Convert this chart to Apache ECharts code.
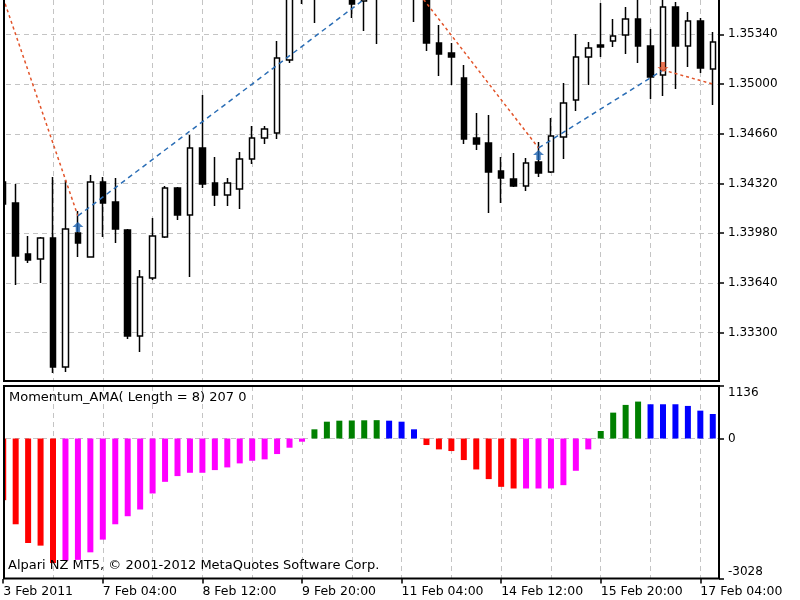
<!DOCTYPE html>
<html>
<head>
<meta charset="utf-8">
<title>Momentum_AMA</title>
<script src="https://cdn.jsdelivr.net/npm/echarts@6/dist/echarts.min.js"></script>
<style>
html,body{margin:0;padding:0;background:#fff;}
#main{width:800px;height:600px;}
</style>
</head>
<body>
<div id="main"></div>
<script>
// H4 bars, 3 Feb 20:00 .. 17 Feb 08:00
var timeLabels = ['3 Feb 2011', '7 Feb 04:00', '8 Feb 12:00', '9 Feb 20:00',
	'11 Feb 04:00', '14 Feb 12:00', '15 Feb 20:00', '17 Feb 04:00'];
var labelStep = 8;

var candleOpen = [1.34330,1.34187,1.33838,1.33804,1.33947,1.33065,1.33982,1.33817,1.34330,1.34193,
	1.34002,1.33277,1.33674,1.33954,1.34289,1.34105,1.34563,1.34323,1.34241,1.34282,
	1.34487,1.34631,1.34665,1.35164,1.35690,1.35620,1.35600,1.35700,1.35660,1.35568,
	1.35620,1.35600,1.35700,1.35680,1.35650,1.35281,1.35212,1.35041,1.34631,1.34597,
	1.34405,1.34351,1.34303,1.34467,1.34399,1.34638,1.34891,1.35185,1.35267,1.35294,
	1.35335,1.35445,1.35260,1.35062,1.35527,1.35260,1.35431,1.35103];
var candleClose = [1.34180,1.33824,1.33797,1.33947,1.33065,1.34009,1.33913,1.34330,1.34187,1.34009,
	1.33277,1.33681,1.33961,1.34289,1.34105,1.34563,1.34317,1.34241,1.34323,1.34487,
	1.34631,1.34693,1.35178,1.35680,1.35600,1.35600,1.35700,1.35650,1.35547,1.35610,
	1.35600,1.35700,1.35680,1.35650,1.35281,1.35205,1.35185,1.34624,1.34590,1.34399,
	1.34357,1.34303,1.34460,1.34392,1.34645,1.34870,1.35185,1.35246,1.35253,1.35328,
	1.35445,1.35260,1.35048,1.35527,1.35260,1.35431,1.35110,1.35287];
var candleLow = [1.34139,1.33626,1.33776,1.33640,1.33024,1.33031,1.33817,1.33815,1.33954,1.33913,
	1.33257,1.33168,1.33660,1.33947,1.34070,1.33681,1.34289,1.34166,1.34166,1.34146,
	1.34453,1.34590,1.34624,1.35144,1.35547,1.35417,1.35590,1.35600,1.35452,1.35363,
	1.35274,1.35590,1.35600,1.35424,1.35226,1.35055,1.34993,1.34590,1.34549,1.34118,
	1.34187,1.34296,1.34269,1.34364,1.34392,1.34487,1.34816,1.34993,1.35185,1.35253,
	1.35205,1.35144,1.34898,1.34918,1.34966,1.35116,1.35075,1.34857];
var candleHigh = [1.34371,1.34317,1.33961,1.33954,1.34364,1.34344,1.34132,1.34378,1.34364,1.34357,
	1.34009,1.33728,1.34084,1.34303,1.34296,1.34652,1.34925,1.34501,1.34357,1.34535,
	1.34713,1.34713,1.35294,1.35720,1.35760,1.35700,1.35750,1.35760,1.35700,1.35680,
	1.35690,1.35760,1.35780,1.35720,1.35690,1.35404,1.35281,1.35130,1.34802,1.34788,
	1.34501,1.34528,1.34494,1.34604,1.34768,1.35007,1.35342,1.35287,1.35554,1.35445,
	1.35527,1.35588,1.35376,1.35609,1.35561,1.35493,1.35452,1.35356];

// turning points of the dotted swing line
var swingIdx = [0, 6, 32, 43, 53, 57];
var swingVal = [1.35587, 1.34098, 1.35773, 1.34563, 1.35096, 1.35000];

// arrows
var arrowUp = [[6, 1.34023], [43, 1.34515]];
var arrowDown = [[53, 1.35116]];

var priceTicks = [1.33300, 1.33640, 1.33980, 1.34320, 1.34660, 1.35000, 1.35340];
var priceMin = 1.329696, priceMax = 1.355745;

// Momentum_AMA histogram
var momValues = [-1334,-1855,-2260,-2317,-2694,-2640,-2625,-2462,-2187,-1855,
	-1681,-1536,-1189,-937,-813,-741,-741,-683,-625,-538,
	-481,-451,-336,-199,-69,199,364,386,390,394,
	397,386,364,199,-141,-235,-271,-466,-669,-878,
	-1045,-1081,-1081,-1081,-1081,-1009,-698,-235,163,560,
	727,799,741,741,741,705,603,531];
var momTicks = [-3028, 0, 1136];
var momMin = -3028, momMax = 1136;

var FONT = 'DejaVu Sans';

var categories = [];
for (var i = 0; i < candleOpen.length; i++) {
	categories.push(i % labelStep == 0 ? timeLabels[i / labelStep] : '');
}

var candleData = [];
for (var i = 0; i < candleOpen.length; i++) {
	candleData.push([candleOpen[i], candleClose[i], candleLow[i], candleHigh[i]]);
}

//histogram colour: falling below zero red, rising below zero magenta, rising above green, falling above blue
function momColor(i){
	var v = momValues[i];
	var prev = i > 0 ? momValues[i - 1] : 0;
	if (v < 0) {
		return v < prev ? '#ff0000' : '#ff00ff';
	}
	return v > prev ? '#008000' : '#0000ff';
}

var momData = [];
for (var i = 0; i < momValues.length; i++) {
	momData.push({value: momValues[i], itemStyle: {color: momColor(i)}});
}

var gridLine = {show: true, lineStyle: {color: '#c4c4c4', width: 1, type: [5, 4]}};

var series = [];
series.push({
	type: 'candlestick',
	xAxisIndex: 0, yAxisIndex: 0,
	data: candleData,
	barWidth: 6,
	itemStyle: {color: '#ffffff', color0: '#000000', borderColor: '#000000', borderColor0: '#000000', borderWidth: 1.5},
	z: 2
});

//swing line segments, down = red, up = blue
for (var s = 0; s < swingIdx.length - 1; s++) {
	var up = swingVal[s + 1] > swingVal[s];
	series.push({
		type: 'line',
		xAxisIndex: 0, yAxisIndex: 0,
		data: [[swingIdx[s], swingVal[s]], [swingIdx[s + 1], swingVal[s + 1]]],
		symbol: 'none',
		lineStyle: {color: up ? '#2a6db5' : '#e2542a', width: 1.5, type: up ? [5, 4] : [3, 3]},
		silent: true,
		z: 3
	});
}

series.push({
	type: 'scatter',
	xAxisIndex: 0, yAxisIndex: 0,
	data: arrowUp,
	symbol: 'path://M5,0 L10,5 L7,5 L7,10 L3,10 L3,5 L0,5 Z',
	symbolSize: [11, 10],
	itemStyle: {color: '#1b62b0'},
	z: 5
});
series.push({
	type: 'scatter',
	xAxisIndex: 0, yAxisIndex: 0,
	data: arrowDown,
	symbol: 'path://M3,0 L7,0 L7,5 L10,5 L5,10 L0,5 L3,5 Z',
	symbolSize: [11, 10],
	itemStyle: {color: '#e2542a'},
	z: 5
});

series.push({
	type: 'bar',
	xAxisIndex: 1, yAxisIndex: 1,
	data: momData,
	barWidth: 6,
	z: 2
});

var myChart = echarts.init(document.getElementById('main'), null, {renderer: 'canvas'});

var option = {
	animation: false,
	backgroundColor: '#ffffff',
	textStyle: {fontFamily: FONT},
	title: [
		{text: 'Momentum_AMA( Length = 8) 207 0', left: 9, top: 391, padding: 0,
			textStyle: {fontFamily: FONT, fontSize: 13, fontWeight: 'normal', color: '#000'}},
		{text: 'Alpari NZ MT5, \u00a9 2001-2012 MetaQuotes Software Corp.', left: 8, top: 559, padding: 0,
			textStyle: {fontFamily: FONT, fontSize: 13, fontWeight: 'normal', color: '#000'}}
	],
	grid: [
		{left: -3, top: 0, width: 722, height: 381, outerBoundsMode: 'none'},
		{left: -3, top: 386, width: 722, height: 192.5, outerBoundsMode: 'none'}
	],
	xAxis: [
		{
			type: 'category', gridIndex: 0, data: categories,
			axisLine: {show: false, onZero: false}, axisTick: {show: false}, axisLabel: {show: false},
			splitLine: {show: true, interval: 3, alignWithLabel: true, lineStyle: gridLine.lineStyle}
		},
		{
			type: 'category', gridIndex: 1, data: categories, position: 'bottom',
			axisLine: {show: false, onZero: false},
			axisTick: {show: true, interval: labelStep - 1, alignWithLabel: true, length: 5, lineStyle: {color: '#000', width: 1.5}},
			axisLabel: {show: true, interval: labelStep - 1, align: 'left', margin: 7, color: '#000', fontSize: 12.5, fontFamily: FONT},
			splitLine: {show: true, interval: 3, alignWithLabel: true, lineStyle: gridLine.lineStyle}
		}
	],
	yAxis: [
		{
			type: 'value', gridIndex: 0, position: 'right',
			min: priceMin, max: priceMax, scale: true,
			axisLine: {show: false},
			axisTick: {show: true, customValues: priceTicks, length: 5, lineStyle: {color: '#000', width: 1.5}},
			axisLabel: {show: true, customValues: priceTicks, margin: 9, color: '#000', fontSize: 12, fontFamily: FONT,
				formatter: function(v){ return v.toFixed(5); }},
			splitLine: gridLine
		},
		{
			type: 'value', gridIndex: 1, position: 'right',
			min: momMin, max: momMax,
			axisLine: {show: false},
			axisTick: {show: true, customValues: momTicks, length: 5, lineStyle: {color: '#000', width: 1.5}},
			axisLabel: {show: true, customValues: momTicks, margin: 9, color: '#000', fontSize: 12, fontFamily: FONT,
				formatter: function(v){
					if (v == momMax) return '{top|' + v + '}';
					if (v == momMin) return '{bot|' + v + '}';
					return v;
				},
				rich: {
					top: {padding: [14, 0, 0, 0], fontSize: 12, fontFamily: FONT, color: '#000'},
					bot: {padding: [0, 0, 14, 0], fontSize: 12, fontFamily: FONT, color: '#000'}
				}},
			splitLine: gridLine
		}
	],
	graphic: [
		{type: 'rect', z: 99, silent: true, shape: {x: -10, y: -10, width: 13, height: 589}, style: {fill: '#ffffff'}},
		{type: 'rect', z: 100, silent: true, shape: {x: 4, y: -2, width: 715, height: 383}, style: {fill: 'none', stroke: '#000', lineWidth: 2}},
		{type: 'rect', z: 100, silent: true, shape: {x: 4, y: 386, width: 715, height: 192.5}, style: {fill: 'none', stroke: '#000', lineWidth: 2}}
	],
	series: series
};

myChart.setOption(option);
</script>
</body>
</html>
